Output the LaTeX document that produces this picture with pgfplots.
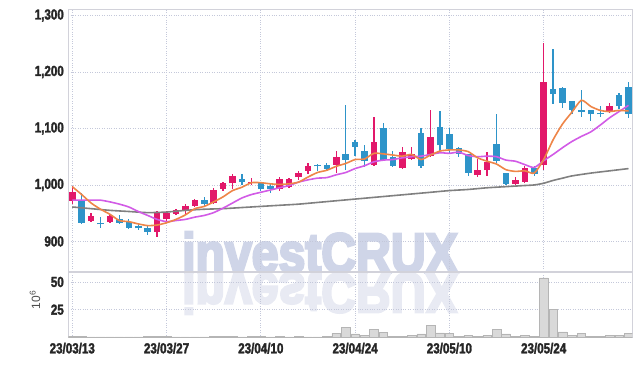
\documentclass[border=0pt]{standalone}
\usepackage{pgfplots}
\pgfplotsset{compat=1.18}
\usepackage{pgfplotstable}
\usepackage{fontspec}
\setmainfont{Liberation Sans}
\newfontfamily\condfont{Liberation Sans}[FakeStretch=0.8, BoldFeatures={FakeBold=2}]
\newfontfamily\wmfont{Liberation Sans}[BoldFeatures={FakeBold=5}]
\definecolor{upc}{HTML}{E2186A}
\definecolor{dnc}{HTML}{2E94C9}
\definecolor{maA}{HTML}{EE8548}
\definecolor{maB}{HTML}{D25BE6}
\definecolor{maC}{HTML}{808080}
\definecolor{gridc}{HTML}{C4C8DA}
\definecolor{framec}{HTML}{D2D2DA}
\definecolor{wm}{HTML}{CFD5E8}
\definecolor{wmr}{HTML}{E8EAF3}
\definecolor{volf}{HTML}{D9D9D9}
\definecolor{vold}{HTML}{B5B5B5}

\pgfplotstableread{
i o h l c
0 972 998 967 988
2 936 951 935 945
4 934 948 932 945
9 917 953 907 950
10 939 953 933 951
11 949 958 948 956
12 954 967 948 962
13 963 976 961 973
15 968 994 967 991
16 993 1005 990 1003
17 1003 1019 992 1015
19 1003 1012 1000 1006
22 992 1014 990 1010
23 997 1012 994 1010
24 1014 1025 1009 1022
25 1025 1038 1019 1034
28 1036 1061 1022 1049
32 1036 1121 1033 1076
35 1030 1067 1028 1058
36 1046 1068 1045 1055
38 1052 1133 1051 1085
43 1018 1046 1014 1027
44 1026 1058 1016 1040
47 1002 1014 1001 1008
48 1006 1033 1005 1030
50 1036 1252 1027 1183
57 1129 1146 1128 1139
}\uptab

\pgfplotstableread{
i o h l c
1 974 986 931 933
3 933 943 924 930
5 940 946 931 933
6 934 940 922 924
7 927 931 920 923
8 923 929 911 917
14 973 978 961 966
18 1011 1019 1000 1005
20 1003 1006 989 992
21 998 1002 985 992
26 1035 1037 1024 1033
27 1036 1038 1027 1029
29 1054 1141 1027 1045
30 1076 1080 1051 1067
31 1060 1070 1032 1042
33 1100 1109 1042 1045
34 1049 1060 1031 1034
37 1092 1101 1030 1034
39 1103 1131 1060 1070
40 1091 1101 1055 1064
41 1065 1068 1049 1055
42 1054 1055 1015 1022
45 1073 1125 1039 1043
46 1021 1022 1000 1002
49 1030 1033 1016 1020
51 1170 1241 1143 1161
52 1171 1173 1137 1146
53 1148 1149 1125 1133
54 1133 1168 1121 1129
55 1132 1132 1114 1125
56 1127 1139 1121 1125
58 1159 1162 1134 1140
59 1173 1182 1119 1126
}\dntab

\pgfplotstableread{
i v
0 1.0
1 1.0
2 0.3
3 0.3
4 0.3
5 0.3
6 0.3
7 0.3
8 1.0
9 1.0
10 1.0
11 0.3
12 0.3
13 0.3
14 0.3
15 1.0
16 1.0
17 1.0
18 0.3
19 1.0
20 1.0
21 0.3
22 1.0
23 0.3
24 1.0
25 0.3
26 0.3
27 1.0
28 3.6
29 9.0
30 3.0
31 1.8
32 7.3
33 4.5
34 1.0
35 1.0
36 1.8
37 3.0
38 11.0
39 4.0
40 3.6
41 1.0
42 1.8
43 1.0
44 1.8
45 7.3
46 3.0
47 1.0
48 1.8
49 1.0
50 53.6
51 25.5
52 4.8
53 2.0
54 3.6
55 1.0
56 1.0
57 1.8
58 1.8
59 3.6
}\voltab

\pgfplotsset{
  base/.style={
    scale only axis, width=564bp,
    xmin=-0.42, xmax=59.4,
    xtick={0,10,20,30,40,50},
    grid=major,
    major grid style={gridc, dotted, line width=0.8bp},
    axis line style={framec, line width=0.9bp},
    major tick length=0pt,
    tick label style={font=\condfont\bfseries\fontsize{14.5bp}{16bp}\selectfont, text=black!85},
    /pgf/number format/assume math mode=true,
  },
  wick/.style={draw=none, mark=none, error bars/.cd, y dir=both, y explicit, error mark=none,
    error bar style={line width=1.3bp, draw=#1}},
  body/.style={draw=none, mark=none, error bars/.cd, y dir=plus, y explicit, error mark=none,
    error bar style={line width=6.6bp, draw=#1}},
}

\begin{document}
\begin{tikzpicture}
\path[use as bounding box] (0,0) rectangle (642bp,-366bp);

% watermark
\node[anchor=base, inner sep=0pt, text=wm, xscale=0.86]
  at (320bp,-272.5bp) {\wmfont\bfseries\fontsize{56bp}{56bp}\selectfont investCRUX};
\node[anchor=base, inner sep=0pt, text=wmr, xscale=0.86, yscale=-1]
  at (320bp,-273.5bp) {\wmfont\bfseries\fontsize{56bp}{56bp}\selectfont investCRUX};

\begin{axis}[base,
  at={(68.3bp,-9bp)}, anchor=north west,
  height=262bp,
  ymin=847.6, ymax=1311.6,
  ytick={900,1000,1100,1200,1300},
  yticklabels={900,{1,000},{1,100},{1,200},{1,300}},
  xticklabels={},
  yticklabel style={xshift=-1bp},
  clip mode=individual,
]
\addplot[wick=upc] table[x=i, y=o, y error plus expr=\thisrow{h}-\thisrow{o}, y error minus expr=\thisrow{o}-\thisrow{l}] {\uptab};
\addplot[wick=dnc] table[x=i, y=o, y error plus expr=\thisrow{h}-\thisrow{o}, y error minus expr=\thisrow{o}-\thisrow{l}] {\dntab};
\addplot[body=upc] table[x=i, y=o, y error plus expr=\thisrow{c}-\thisrow{o}] {\uptab};
\addplot[body=dnc] table[x=i, y=c, y error plus expr=\thisrow{o}-\thisrow{c}] {\dntab};

\addplot[maC, line width=1.6bp, smooth, tension=0.4] coordinates {
(0,961) (2,958) (4,955) (6,953) (8,951) (10,952) (12,955) (14,957) (16,958) (18,960)
(20,962) (22,964) (24,966) (26,969) (28,972) (30,975) (32,978) (34,981) (36,984) (38,987)
(40,990) (42,992) (44,995) (46,997) (48,999) (49,1000) (50,1003) (51,1008) (52,1012)
(53,1016) (55,1021) (57,1025) (59,1029)};

\addplot[maB, line width=1.6bp, smooth, tension=0.4] coordinates {
(0,973) (1,973) (2,973) (3,973) (4,970) (5,966) (6,961) (7,953) (8,946) (9,939)
(10,935) (11,937) (12,939) (13,943) (14,946) (15,951) (16,959) (17,968) (18,977) (19,983)
(20,987) (21,991) (22,995) (23,999) (24,1005) (25,1009) (26,1012) (27,1013) (28,1018) (29,1022)
(30,1029) (31,1034) (32,1041) (33,1044) (34,1045) (35,1048) (36,1050) (37,1051) (38,1054) (39,1057)
(40,1056) (41,1058) (42,1052) (43,1050) (44,1051) (45,1050) (46,1044) (47,1042) (48,1036) (49,1031)
(50,1043) (51,1054) (52,1066) (53,1077) (54,1086) (55,1094) (56,1106) (57,1119) (58,1130) (59,1141)};

\addplot[maA, line width=1.6bp, smooth, tension=0.4] coordinates {
(0,997) (1,983) (2,968) (3,957) (4,948) (5,937) (6,935) (7,931) (8,928) (9,929)
(10,933) (11,939) (12,947) (13,958) (14,962) (15,970) (16,979) (17,990) (18,996) (19,1004)
(20,1004) (21,1002) (22,1001) (23,1002) (24,1005) (25,1014) (26,1022) (27,1026) (28,1033) (29,1038)
(30,1045) (31,1046) (32,1056) (33,1055) (34,1053) (35,1051) (36,1054) (37,1045) (38,1053) (39,1060)
(40,1062) (41,1062) (42,1059) (43,1048) (44,1042) (45,1037) (46,1027) (47,1024) (48,1025) (49,1021)
(50,1045) (51,1080) (52,1108) (53,1129) (54,1150) (55,1139) (56,1132) (57,1130) (58,1132) (59,1131)};
\end{axis}

\begin{axis}[base,
  at={(68.3bp,-272bp)}, anchor=north west,
  height=65.3bp,
  ymin=0, ymax=59,
  ytick={25,50},
  yticklabels={25,50},
  yticklabel style={xshift=-1bp},
  xticklabels={23/03/13,23/03/27,23/04/10,23/04/24,23/05/10,23/05/24},
  xticklabel style={yshift=-2bp},
  ybar, bar width=8.6bp,
]
\addplot[fill=volf, draw=vold, line width=0.5bp] table[x=i, y=v] {\voltab};
\end{axis}

\node[rotate=90, inner sep=0pt, text=black!70, font=\fontsize{12bp}{12bp}\selectfont]
  at (35bp,-300bp) {10\textsuperscript{6}};
\end{tikzpicture}
\end{document}
